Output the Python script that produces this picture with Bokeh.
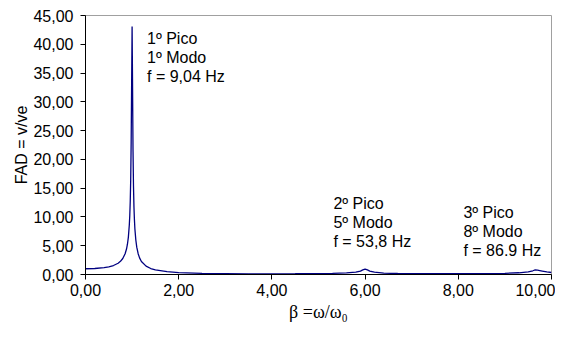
from bokeh.plotting import figure
from bokeh.models import Range1d, FixedTicker, Label
from bokeh.embed import file_html
from bokeh.resources import INLINE

# ---- data ----
beta = [0.0, 0.2, 0.4, 0.5, 0.6, 0.7, 0.75, 0.8, 0.85, 0.88, 0.9, 0.92, 0.94, 0.95,
        0.96, 0.97, 0.98, 0.99, 1.0, 1.01, 1.02, 1.03, 1.04, 1.05, 1.06, 1.08, 1.1,
        1.13, 1.16, 1.2, 1.3, 1.4, 1.5, 1.75, 2.0, 2.5, 3.0, 3.5, 4.0, 4.5, 5.0, 5.3,
        5.6, 5.8, 5.9, 5.95, 6.0, 6.05, 6.1, 6.2, 6.4, 6.7, 7.0, 7.5, 8.0, 8.5, 9.0,
        9.3, 9.5, 9.6, 9.65, 9.7, 9.8, 9.9, 10.0]
fad = [1.00, 1.04, 1.19, 1.33, 1.56, 1.96, 2.29, 2.78, 3.60, 4.43, 5.26, 6.5, 8.6, 10.2,
       12.7, 16.4, 23.0, 33.0, 43.1, 32.4, 21.4, 15.3, 11.7, 9.5, 7.9, 6.0, 4.75,
       3.61, 2.89, 2.27, 1.45, 1.04, 0.80, 0.49, 0.33, 0.19, 0.15, 0.12, 0.12, 0.13, 0.16, 0.2,
       0.27, 0.4, 0.6, 0.8, 0.95, 0.8, 0.6, 0.4, 0.25, 0.17, 0.14, 0.13, 0.14, 0.16, 0.2,
       0.3, 0.45, 0.65, 0.8, 0.75, 0.6, 0.45, 0.35]

x_ticks = [0, 2, 4, 6, 8, 10]
x_tick_labels = ["0,00", "2,00", "4,00", "6,00", "8,00", "10,00"]
y_ticks = [0, 5, 10, 15, 20, 25, 30, 35, 40, 45]
y_tick_labels = ["0,00", "5,00", "10,00", "15,00", "20,00", "25,00", "30,00",
                 "35,00", "40,00", "45,00"]

ann_lines = [["1º Pico", "1º Modo", "f = 9,04 Hz"],
             ["2º Pico", "5º Modo", "f  = 53,8 Hz"],
             ["3º Pico", "8º Modo", "f  = 86.9 Hz"]]
ann_x = [1.32, 5.32, 8.11]
ann_y = [[40.93, 37.65, 34.37], [12.26, 8.98, 5.70], [10.71, 7.43, 4.15]]

FONT = "Liberation Sans"

p = figure(width=555, height=326, output_backend="svg", toolbar_location=None,
           x_range=Range1d(0, 10), y_range=Range1d(0, 45),
           min_border_left=85, min_border_right=4, min_border_top=15,
           min_border_bottom=52)
p.background_fill_color = "white"
p.border_fill_color = "white"
p.outline_line_color = "#a0a0a0"
p.outline_line_width = 1
p.xgrid.visible = False
p.ygrid.visible = False

p.line(beta, fad, line_color="#000080", line_width=1.3)

for ax, ticks, labels in ((p.xaxis[0], x_ticks, x_tick_labels),
                          (p.yaxis[0], y_ticks, y_tick_labels)):
    ax.ticker = FixedTicker(ticks=ticks)
    ax.major_label_overrides = {t: l for t, l in zip(ticks, labels)}
    ax.minor_tick_line_color = None
    ax.major_tick_out = 5
    ax.major_tick_in = 0
    ax.axis_line_color = "black"
    ax.major_tick_line_color = "black"
    ax.major_label_text_font = FONT
    ax.major_label_text_font_size = "16px"
    ax.major_label_text_color = "black"
    ax.axis_label_text_color = "black"

p.yaxis.axis_label = "FAD = v/ve"
p.yaxis.axis_label_text_font = FONT
p.yaxis.axis_label_text_font_size = "16px"
p.yaxis.axis_label_text_font_style = "normal"
p.yaxis.axis_label_standoff = 0
p.yaxis.major_label_standoff = 7

p.xaxis.axis_label = "β =ω/ω₀"
p.xaxis.axis_label_text_font = "Liberation Serif"
p.xaxis.axis_label_text_font_size = "18px"
p.xaxis.axis_label_text_font_style = "normal"
p.xaxis.axis_label_standoff = 3
p.xaxis.major_label_standoff = 4

for lines, x, ys in zip(ann_lines, ann_x, ann_y):
    for txt, y in zip(lines, ys):
        p.add_layout(Label(x=x, y=y, text=txt, text_font=FONT, text_font_size="16px",
                           text_baseline="middle", text_align="left", text_color="black"))

open("out.html", "w").write(file_html(p, INLINE))
